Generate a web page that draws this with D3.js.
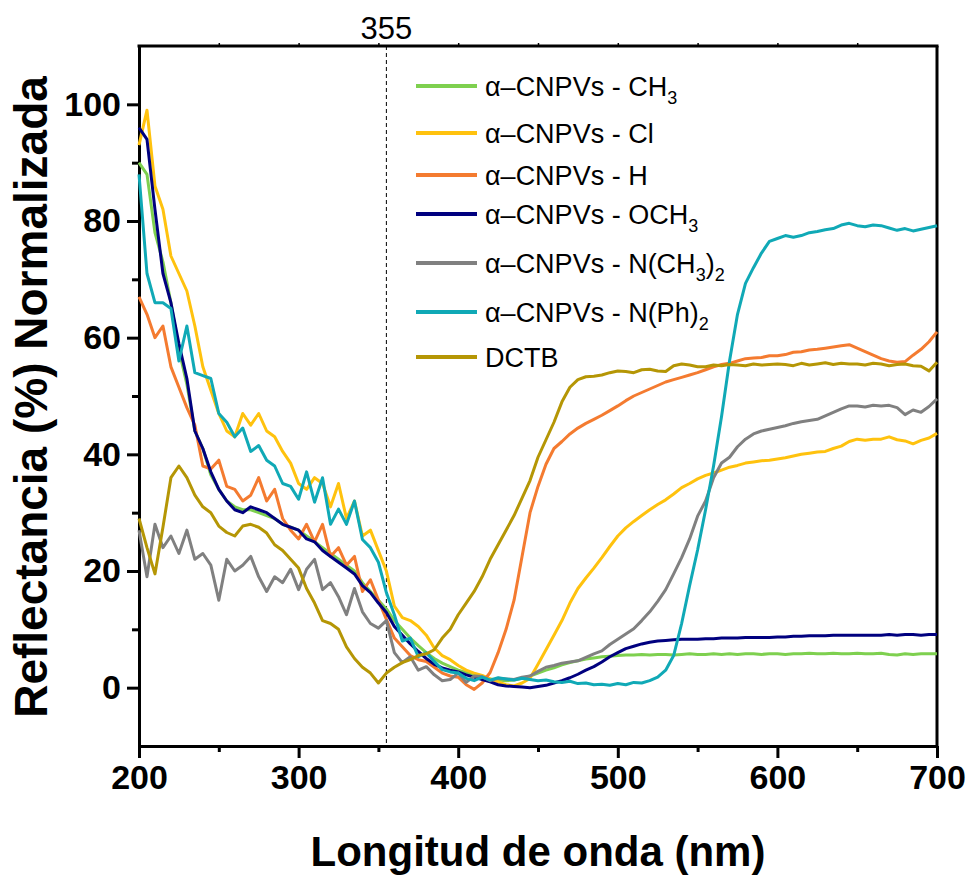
<!DOCTYPE html>
<html>
<head>
<meta charset="utf-8">
<script src="https://cdn.jsdelivr.net/npm/d3@7"></script>
<style>
  body { margin: 0; background: #fff; }
  svg { font-family: "Liberation Sans", Arial, sans-serif; }
</style>
</head>
<body>
<div id="chart"></div>
<script>
// Wavelength grid (nm), one reading every 5 nm.
let wavelengths = d3.range(200, 701, 5);

// Reflectance (%), one value per wavelength.
let ch3 = [90, 88, 78, 73, 66, 58, 52, 44, 41, 36.5,
  34, 32, 31, 30.5, 30.5, 30, 29.5, 29, 28, 27.5,
  27, 26, 25, 24, 23, 22, 21, 20, 18, 16.5,
  15, 13.5, 11.5, 10, 8.5, 7.2, 6, 5, 4.2, 3.6,
  3, 2.6, 2.2, 1.8, 1.5, 1.3, 1.2, 1.3, 1.6, 2,
  2.5, 3, 3.4, 3.9, 4.3, 4.6, 4.9, 5.1, 5.3, 5.4,
  5.5, 5.6, 5.6, 5.7, 5.6, 5.7, 5.7, 5.6, 5.7, 5.8,
  5.7, 5.7, 5.8, 5.7, 5.8, 5.7, 5.8, 5.8, 5.7, 5.8,
  5.8, 5.7, 5.8, 5.8, 5.9, 5.8, 5.8, 5.9, 5.8, 5.8,
  5.9, 5.8, 5.8, 5.9, 5.7, 5.6, 5.8, 5.7, 5.8, 5.8, 5.8];

let cl = [93, 99, 86, 82, 74, 71, 68, 62, 55, 51,
  47, 44, 43, 47, 45, 47, 44, 43, 40.5, 38.5,
  35, 34, 36, 35, 31, 35, 29, 32, 26, 27,
  23.5, 20, 14, 12, 11.5, 10.5, 9, 6.8, 5.5, 4.8,
  3.8, 3, 2.5, 2.1, 1.5, 1, 0.5, 0.3, 0.8, 1.6,
  4, 6.5, 9, 11.5, 14.5, 17, 18.8, 20.5, 22.3, 24.2,
  26, 27.4, 28.5, 29.5, 30.5, 31.4, 32.2, 33.2, 34.3, 35,
  35.8, 36.4, 36.8, 37.3, 37.8, 38.1, 38.5, 38.7, 38.9, 39,
  39.2, 39.4, 39.7, 40, 40.2, 40.4, 40.5, 41, 41.4, 42.2,
  42.6, 42.4, 42.6, 42.6, 43, 42.5, 42.3, 41.8, 42.4, 42.8, 43.6];

let hh = [67, 64, 60, 62, 55, 51.5, 48, 45, 38, 37.5,
  39, 34.5, 34, 32, 33, 36, 32, 34, 29, 27,
  25.5, 28, 25, 28, 22.5, 24, 21, 22.5, 16.5, 18.5,
  15, 11.7, 8.5, 7, 5.5, 4.8, 4.5, 3.5, 2.5, 2,
  1.8, 0.5, -0.3, 0.8, 2.6, 6, 10, 15, 22.5, 30,
  34.5, 38.3, 41, 42.2, 43.5, 44.5, 45.3, 46, 46.7, 47.5,
  48.3, 49.2, 50, 50.6, 51.2, 51.8, 52.4, 52.8, 53.2, 53.6,
  54, 54.5, 55, 55.4, 55.6, 56, 56.4, 56.5, 56.6, 56.9,
  56.9, 57.1, 57.5, 57.6, 57.9, 58, 58.2, 58.4, 58.6, 58.8,
  58.2, 57.6, 57, 56.4, 56, 55.8, 55.9, 57, 58, 59.3, 61];

let och3 = [96, 94, 82, 71, 66, 59, 53, 44, 41, 37,
  34, 32, 30.5, 30, 31, 30.5, 30, 29, 28, 27.5,
  27, 25.5, 25, 23.5, 22.5, 21.5, 20.5, 19.5, 17.5, 16.3,
  14.5, 12.9, 10.5, 9, 7.5, 6.2, 5, 4, 3.4, 3,
  2.7, 2.2, 1.8, 1.4, 1, 0.5, 0.3, 0.2, 0.1, 0,
  0.2, 0.4, 0.8, 1.2, 1.7, 2.3, 3, 3.6, 4.4, 5.3,
  6, 6.7, 7.1, 7.5, 7.8, 8, 8.1, 8.2, 8.3, 8.3,
  8.3, 8.4, 8.4, 8.5, 8.5, 8.5, 8.6, 8.6, 8.6, 8.6,
  8.7, 8.7, 8.8, 8.8, 8.9, 8.9, 8.9, 9, 9, 9,
  9, 9, 9, 9, 9.1, 9, 9.1, 9.1, 9, 9.1, 9.1];

let nme2 = [27, 19, 28, 24, 26, 23, 27, 22, 23, 21,
  15, 22, 20, 21, 22.5, 19, 16.5, 19, 18, 20.3,
  16.8, 20.3, 22, 16.8, 18, 15.6, 12.5, 17, 13, 11,
  10.2, 11.5, 6, 4.3, 5.3, 3, 3.6, 2.2, 1.2, 1.4,
  2.5, 0.9, 2, 1.9, 1.2, 1.6, 1.5, 1.4, 1.8, 2,
  2.8, 3.5, 3.8, 4.2, 4.4, 4.6, 5.2, 5.8, 6.3, 7.4,
  8.3, 9.2, 10.1, 11.5, 13, 14.8, 16.8, 19.5, 22.3, 25.5,
  29.4, 32, 36, 38.5, 39.5, 41.3, 42.6, 43.5, 44, 44.3,
  44.6, 44.9, 45.3, 45.6, 45.8, 46, 46.6, 47.2, 47.8, 48.3,
  48.3, 48.1, 48.4, 48.3, 48.4, 48, 46.8, 47.6, 47.2, 48.2, 49.5];

let nph2 = [88, 71, 66, 66, 65, 56, 62, 54, 53.5, 53,
  47, 45.5, 43, 44.5, 40.5, 41.5, 39, 38, 35, 34.5,
  32.3, 37, 31.8, 36, 28, 30.6, 28, 32, 25.4, 24,
  21.5, 16.3, 12.5, 8, 8.5, 5.3, 6, 4.5, 3.1, 2.7,
  2.5, 1.6, 1.2, 1.8, 1.3, 1.7, 1.5, 1.3, 1.6, 1.4,
  1.2, 1.3, 1, 0.9, 1.1, 0.7, 0.8, 0.5, 0.6, 0.4,
  0.7, 0.5, 0.9, 0.8, 1.2, 1.8, 3, 5.5, 11, 17.5,
  23.6, 30.5, 38, 46.5, 56, 64, 69.3, 72, 74.5, 76.5,
  77, 77.5, 77.2, 77.5, 78, 78.2, 78.5, 78.7, 79.3, 79.6,
  79.2, 79, 79.3, 79.2, 78.8, 78.4, 78.7, 78.3, 78.6, 78.9, 79.2];

let dctb = [29, 24, 19.5, 27.5, 36, 38, 36, 33, 31, 30,
  27.7, 26.6, 26, 27.7, 28, 27.5, 26.5, 24.5, 23.5, 22,
  20.5, 17, 14.5, 11.5, 11, 10, 7, 5, 3.5, 2.5,
  0.8, 2.5, 3.5, 4.3, 4.8, 5.5, 5.8, 6.5, 8.5, 10,
  12.5, 14.5, 16.5, 19, 22, 24.5, 27, 29.5, 32.5, 35.5,
  39.5, 42.5, 45.5, 49, 51.5, 52.8, 53.3, 53.4, 53.6, 54,
  54.3, 54.2, 54, 54.5, 54.6, 54.3, 54.2, 55.2, 55.5, 55.3,
  55, 55, 55.3, 55.2, 55.4, 55.3, 55.2, 55.5, 55.3, 55.4,
  55.5, 55.4, 55.2, 55.6, 55.3, 55.5, 55.7, 55.4, 55.6, 55.5,
  55.5, 55.3, 55.6, 55.5, 55.2, 55.4, 55.5, 55.2, 55.1, 54.3, 55.8];

// Legend labels: pieces of text, the second item says if it is a subscript.
let seriesLabels = [
  [["α–CNPVs - CH", 0], ["3", 1]],
  [["α–CNPVs - Cl", 0]],
  [["α–CNPVs - H", 0]],
  [["α–CNPVs - OCH", 0], ["3", 1]],
  [["α–CNPVs - N(CH", 0], ["3", 1], [")", 0], ["2", 1]],
  [["α–CNPVs - N(Ph)", 0], ["2", 1]],
  [["DCTB", 0]]
];
let seriesValues = [ch3, cl, hh, och3, nme2, nph2, dctb];
let seriesColors = ["#7ED04F", "#FFC20E", "#F47B30", "#00007F", "#808080", "#10A9B6", "#B59605"];
let legendRowY = [86, 133, 175, 214, 263, 312, 357];

let xTicks = [200, 300, 400, 500, 600, 700];
let yTicks = [0, 20, 40, 60, 80, 100];
let markerNm = 355;

// Dimensions.
let margin = {top: 46, right: 30, bottom: 131, left: 139},
    width = 967 - margin.left - margin.right,
    height = 877 - margin.top - margin.bottom;

let svg = d3.select("#chart")
  .append("svg")
  .attr("width", 967)
  .attr("height", 877)
  .append("g")
  .attr("transform", "translate(" + margin.left + "," + margin.top + ")");

let x = d3.scaleLinear().domain([200, 700]).range([0, width]);
let y = d3.scaleLinear().domain([-10, 110]).range([height, 0]);

// Minor ticks first so the main axes sit on top.
svg.append("g")
  .attr("transform", "translate(0," + height + ")")
  .call(d3.axisBottom(x).tickValues(d3.range(250, 700, 100)).tickSize(6).tickFormat(""))
  .call(g => g.select(".domain").remove())
  .selectAll("line").attr("stroke-width", 3);

svg.append("g")
  .call(d3.axisLeft(y).tickValues(d3.range(10, 100, 20)).tickSize(7).tickFormat(""))
  .call(g => g.select(".domain").remove())
  .selectAll("line").attr("stroke-width", 3);

// Top ticks, small.
svg.append("g")
  .call(d3.axisTop(x).tickValues(d3.range(250, 700, 50)).tickSize(3).tickFormat(""))
  .call(g => g.select(".domain").remove())
  .selectAll("line").attr("stroke-width", 1.5);

// X axis.
let xAxis = svg.append("g")
  .attr("transform", "translate(0," + height + ")")
  .call(d3.axisBottom(x).tickValues(xTicks).tickSize(12).tickPadding(7).tickSizeOuter(0));
xAxis.select(".domain").attr("stroke-width", 3);
xAxis.selectAll("line").attr("stroke-width", 3);
xAxis.selectAll("text")
  .attr("font-size", "34px").attr("font-weight", "bold").attr("fill", "#000")
  .style("font-family", "Liberation Sans, Arial, sans-serif");

// Y axis.
let yAxis = svg.append("g")
  .call(d3.axisLeft(y).tickValues(yTicks).tickSize(12).tickPadding(6).tickSizeOuter(0));
yAxis.select(".domain").attr("stroke-width", 3);
yAxis.selectAll("line").attr("stroke-width", 3);
yAxis.selectAll("text")
  .attr("font-size", "34px").attr("font-weight", "bold").attr("fill", "#000")
  .style("font-family", "Liberation Sans, Arial, sans-serif");

// Top and right border.
svg.append("line")
  .attr("x1", -1.5).attr("x2", width + 1.5).attr("y1", 0).attr("y2", 0)
  .attr("stroke", "#000").attr("stroke-width", 3);
svg.append("line")
  .attr("x1", width).attr("x2", width).attr("y1", 0).attr("y2", height)
  .attr("stroke", "#000").attr("stroke-width", 3);

// Dashed marker line.
svg.append("line")
  .attr("x1", x(markerNm)).attr("x2", x(markerNm))
  .attr("y1", 0).attr("y2", height)
  .attr("stroke", "#000").attr("stroke-width", 1)
  .attr("stroke-dasharray", "4,3");

svg.append("text")
  .attr("x", x(markerNm)).attr("y", -7)
  .attr("text-anchor", "middle")
  .attr("font-size", "31px")
  .text(markerNm);

// Lines.
let line = d3.line()
  .x(function(d, i) { return x(wavelengths[i]); })
  .y(function(d) { return y(d); });

seriesValues.forEach(function(vals, k) {
  svg.append("path")
    .datum(vals)
    .attr("fill", "none")
    .attr("stroke", seriesColors[k])
    .attr("stroke-width", 3)
    .attr("stroke-linejoin", "round")
    .attr("d", line);
});

// Legend.
let legend = svg.append("g");
seriesLabels.forEach(function(parts, k) {
  let ly = legendRowY[k] - margin.top;
  legend.append("line")
    .attr("x1", 416 - margin.left).attr("x2", 477 - margin.left)
    .attr("y1", ly).attr("y2", ly)
    .attr("stroke", seriesColors[k]).attr("stroke-width", 4);
  let t = legend.append("text")
    .attr("x", 485 - margin.left).attr("y", ly + 10)
    .attr("font-size", "27px").attr("fill", "#000");
  parts.forEach(function(p) {
    let s = t.append("tspan").text(p[0]);
    if (p[1]) s.attr("font-size", "18px").attr("dy", 8);
    else if (t.selectAll("tspan").size() > 1) s.attr("dy", -8);
  });
});

// Axis titles.
svg.append("text")
  .attr("x", width / 2).attr("y", 866 - margin.top)
  .attr("text-anchor", "middle")
  .attr("font-size", "42px").attr("font-weight", "bold")
  .text("Longitud de onda (nm)");

svg.append("text")
  .attr("transform", "rotate(-90)")
  .attr("x", -(397 - margin.top)).attr("y", -margin.left + 47)
  .attr("text-anchor", "middle")
  .attr("font-size", "46px").attr("font-weight", "bold")
  .text("Reflectancia (%) Normalizada");
</script>
</body>
</html>
